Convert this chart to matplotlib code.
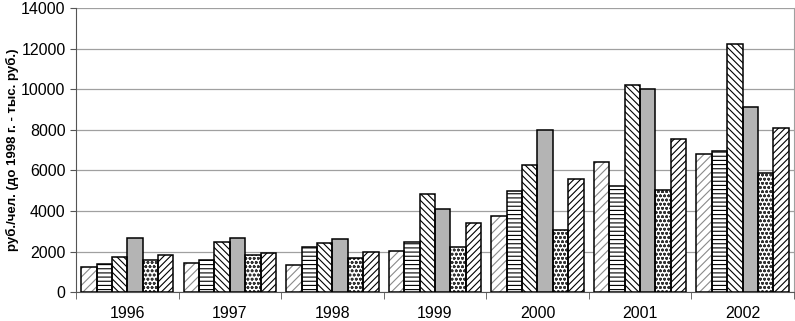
import numpy as np
import matplotlib.pyplot as plt
from matplotlib.ticker import MultipleLocator

plt.rcParams['font.family'] = ['Liberation Sans', 'DejaVu Sans']
plt.rcParams['hatch.linewidth'] = 0.8

years = ['1996', '1997', '1998', '1999', '2000', '2001', '2002']

# шесть рядов, значения
s1 = [1220, 1440, 1350, 2040, 3760, 6400, 6820]
s2 = [1390, 1560, 2200, 2480, 4980, 5240, 6960]
s3 = [1730, 2450, 2400, 4830, 6260, 10220, 12220]
s4 = [2660, 2660, 2640, 4120, 7970, 10030, 9100]
s5 = [1580, 1810, 1700, 2200, 3050, 5050, 5860]
s6 = [1810, 1950, 2000, 3410, 5550, 7530, 8100]

series = [s1, s2, s3, s4, s5, s6]
hatches = ['////', '----', '\\\\\\\\\\', '', 'oooo', '/////']
fills = ['white', 'white', 'white', '#b4b4b4', 'white', 'white']
hatch_cols = ['#8a8a8a', 'black', 'black', 'black', '#333333', 'black']

fig = plt.figure(figsize=(7.95, 3.21), dpi=100)
ax = fig.add_axes([0.0956, 0.09, 0.903, 0.885])

x = np.arange(len(years))
w = 0.15
for i, vals in enumerate(series):
    pos = x + (i - 2.5) * w
    # штриховка отдельно, чтобы цвет можно было задать
    ax.bar(pos, vals, width=w, color=fills[i], edgecolor=hatch_cols[i],
           hatch=hatches[i], linewidth=0, zorder=3)
    ax.bar(pos, vals, width=w, fill=False, edgecolor='black',
           linewidth=1.1, zorder=4)

ax.set_xlim(-0.5, len(years) - 0.5)
ax.set_ylim(0, 14000)
ax.yaxis.set_major_locator(MultipleLocator(2000))
ax.set_xticks(x)
ax.set_xticklabels(years)
ax.set_xticks(np.arange(-0.5, len(years), 1), minor=True)
ax.tick_params(axis='x', which='major', length=0, pad=10, labelsize=11.5)
ax.tick_params(axis='x', which='minor', length=5, color='#555555', direction='out')
ax.tick_params(axis='y', length=4, color='#555555', labelsize=11.5)

ax.grid(axis='y', color='#a0a0a0', linewidth=0.9, zorder=0)
ax.spines['left'].set_color('#555555')
ax.spines['bottom'].set_color('#555555')
ax.spines['top'].set_visible(False)
ax.spines['right'].set_color('#a0a0a0')

ax.set_ylabel('руб./чел. (до 1998 г. - тыс. руб.)', fontsize=9.5, fontweight='bold')
ax.yaxis.set_label_coords(-0.08, 0.5)

fig.savefig('out.png', dpi=100)
